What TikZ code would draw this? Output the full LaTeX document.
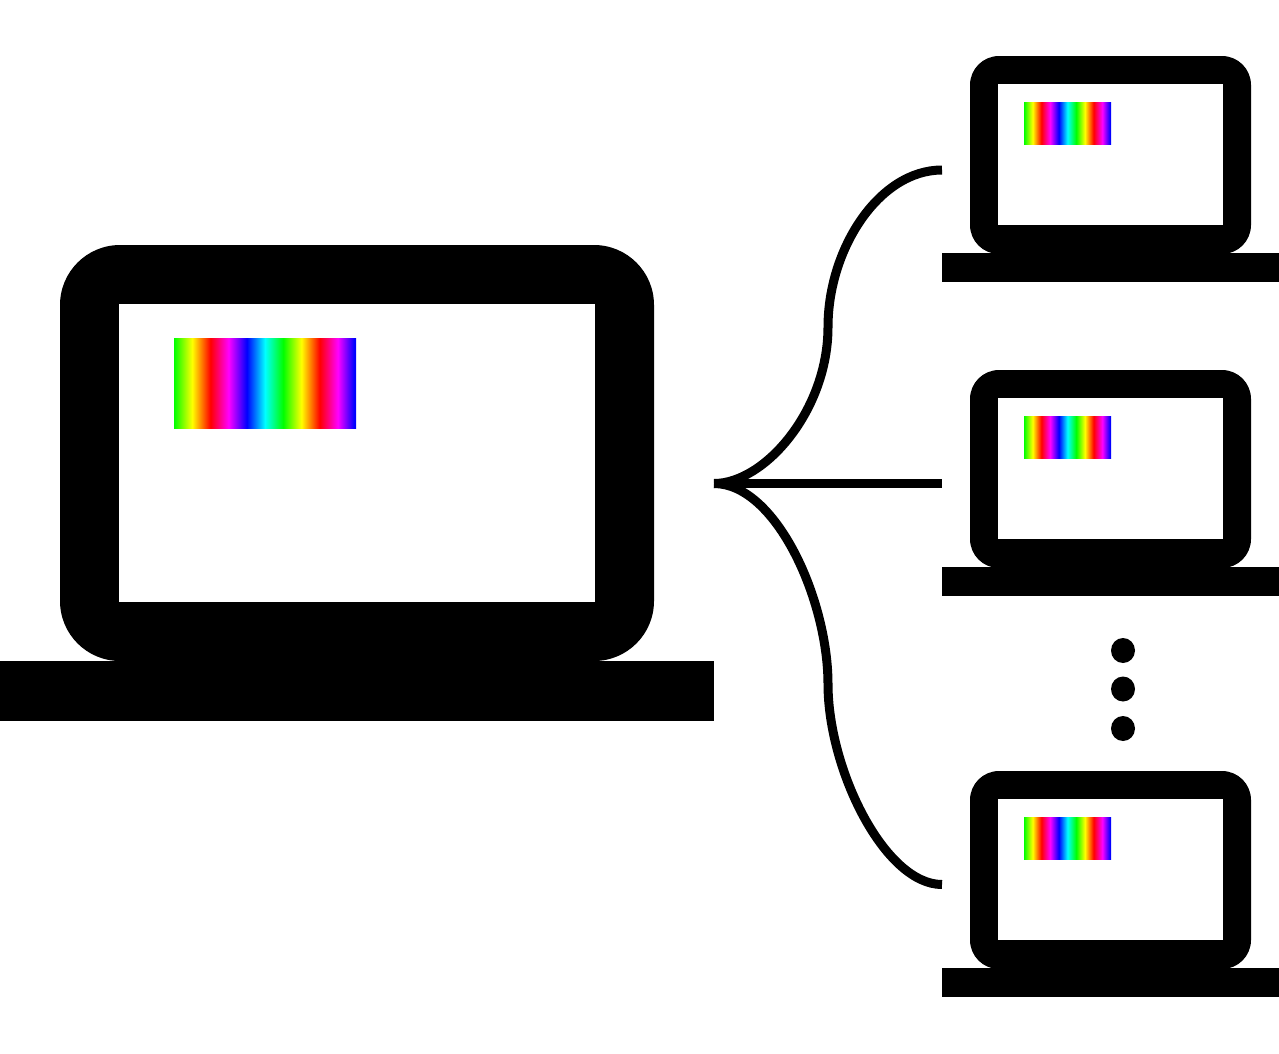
\documentclass[tikz,border=0pt]{standalone}
\usepackage{xcolor}
\usepackage{tikz}
\usetikzlibrary{calc,positioning,shapes.geometric}
\pgfdeclarehorizontalshading{rainbowband}{100bp}{
  rgb(0bp)=(0,1,0); rgb(25bp)=(0,1,0); rgb(30bp)=(1,1,0); rgb(35bp)=(1,0,0); rgb(40bp)=(1,0,1);
  rgb(45bp)=(0,0,1); rgb(50bp)=(0,1,1); rgb(55bp)=(0,1,0); rgb(60bp)=(1,1,0); rgb(65bp)=(1,0,0);
  rgb(70bp)=(1,0,1); rgb(74.5bp)=(0,0,1); rgb(100bp)=(0,0,1)}
\tikzset{
  laptopbody/.style={fill=black,rounded corners=#1},
  laptopscreen/.style={fill=white},
  laptopbase/.style={fill=black},
  rainbowbar/.style={shading=rainbowband},
  linkline/.style={draw=black,line width=9pt},
  stackdot/.style={ellipse,fill=black,minimum width=24pt,minimum height=25pt,inner sep=0pt}
}
\begin{document}
\begin{tikzpicture}[x=1pt,y=-1pt]
\useasboundingbox (0,0) rectangle (1279,1053);
% big laptop
\path [laptopbody=60pt] (60,245) rectangle (654,661);
\path [laptopscreen] (119,304) rectangle (595,602);
\path [laptopbase] (0,660.8) rectangle (714,721);
\path [rainbowbar] (174,338) rectangle (356,428.6);
% small laptops
\foreach \dy in {0,314,715} {
  \begin{scope}[shift={(0,\dy)}]
    \path [laptopbody=29pt] (970,56) rectangle (1251,254);
    \path [laptopscreen] (998,84) rectangle (1223,225);
    \path [laptopbase] (942,253) rectangle (1279,282);
    \path [rainbowbar] (1024,102) rectangle (1111,144.6);
  \end{scope}
}
% ends of the links
\coordinate (hub) at (714,483.5);
\coordinate (top) at (942,170);
\coordinate (mid) at (942,483.5);
\coordinate (bot) at (942,884.5);
\draw [linkline] (hub) .. controls (765,483.5) and (828,410) .. (828,327) .. controls (828,249) and (879,170) .. (top);
\draw [linkline] (hub) -- (mid);
\draw [linkline] (hub) .. controls (776,483.5) and (828,600) .. (828,684) .. controls (828,770) and (885,884.5) .. (bot);
% dots
\node [stackdot] (dota) at (1123,650.5) {};
\node [stackdot] (dotb) at (1123,689) {};
\node [stackdot] (dotc) at (1123,728.5) {};
\end{tikzpicture}
\end{document}
